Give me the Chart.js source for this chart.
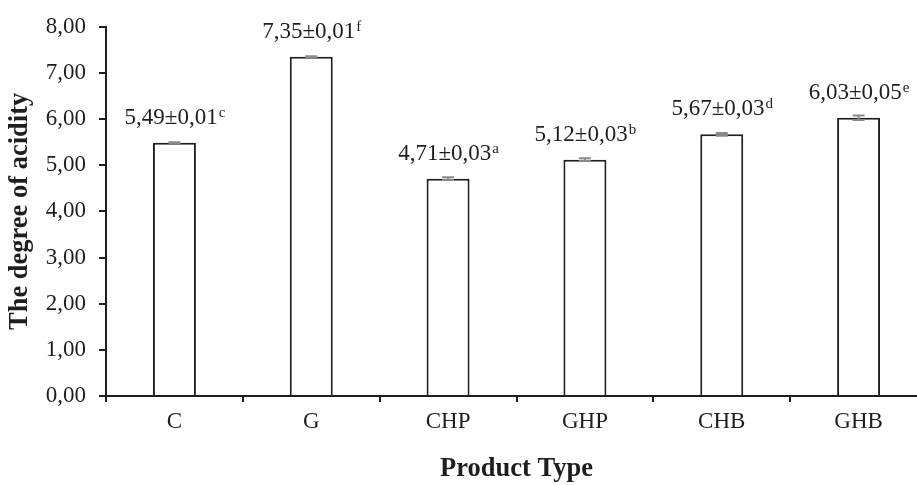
<!DOCTYPE html>
<html>
<head>
<meta charset="utf-8">
<script src="https://cdn.jsdelivr.net/npm/chart.js@4/dist/chart.umd.min.js"></script>
<style>
  html, body { margin: 0; padding: 0; background: #fff; overflow: hidden; }
  #wrap { position: relative; width: 930px; height: 485px; }
</style>
</head>
<body>
<div id="wrap"><canvas id="chart"></canvas></div>
<script>
// Degree of acidity per product type (mean ± SD, with significance letters)
const categories = ['C', 'G', 'CHP', 'GHP', 'CHB', 'GHB'];
const acidity    = [5.49, 7.35, 4.71, 5.12, 5.67, 6.03];
const deviation  = [0.01, 0.01, 0.03, 0.03, 0.03, 0.05];
const letters    = ['c', 'f', 'a', 'b', 'd', 'e'];
const yTicks     = [0, 1, 2, 3, 4, 5, 6, 7, 8];

const SERIF = '"Liberation Serif", "Times New Roman", serif';
const INK = '#1e1e1e';
const fmt = v => v.toFixed(2).replace('.', ',');

// Error bars and "mean±SD letter" labels above each bar
const annotate = {
  id: 'annotate',
  afterDatasetsDraw(chart) {
    const ctx = chart.ctx;
    const y = chart.scales.y;
    const meta = chart.getDatasetMeta(0);
    ctx.save();
    meta.data.forEach((bar, i) => {
      const x = bar.x;
      const v = acidity[i], sd = deviation[i];
      const yHi = y.getPixelForValue(v + sd);
      const yLo = y.getPixelForValue(v - sd);
      const cap = 6;
      ctx.strokeStyle = '#8a8a8a';
      ctx.lineWidth = 2;
      ctx.beginPath();
      ctx.moveTo(x, yHi); ctx.lineTo(x, yLo);
      ctx.moveTo(x - cap, yHi); ctx.lineTo(x + cap, yHi);
      ctx.moveTo(x - cap, yLo); ctx.lineTo(x + cap, yLo);
      ctx.stroke();

      const main = fmt(v) + '±' + fmt(sd);
      const sup = letters[i];
      ctx.font = '23px ' + SERIF;
      const wMain = ctx.measureText(main).width;
      ctx.font = '15px ' + SERIF;
      const wSup = ctx.measureText(sup).width;
      const start = x - (wMain + wSup) / 2;
      const base = y.getPixelForValue(v) - 19;
      ctx.fillStyle = INK;
      ctx.textBaseline = 'alphabetic';
      ctx.textAlign = 'left';
      ctx.font = '23px ' + SERIF;
      ctx.fillText(main, start, base);
      ctx.font = '15px ' + SERIF;
      ctx.fillText(sup, start + wMain + 1, base - 7);
    });
    ctx.restore();
  }
};

new Chart(document.getElementById('chart'), {
  type: 'bar',
  data: {
    labels: categories,
    datasets: [{
      data: acidity,
      backgroundColor: '#ffffff',
      borderColor: INK,
      borderWidth: 2,
      barPercentage: 0.314,
      categoryPercentage: 1.0
    }]
  },
  options: {
    responsive: true,
    maintainAspectRatio: false,
    animation: false,
    devicePixelRatio: 1,
    layout: { padding: { top: 21, right: 3, left: 0, bottom: 0 } },
    plugins: {
      legend: { display: false },
      tooltip: { enabled: false }
    },
    scales: {
      x: {
        afterFit: s => { s.height = 89; },
        grid: {
          display: true, offset: true, drawOnChartArea: false,
          drawTicks: true, tickLength: 6, color: INK, lineWidth: 2
        },
        border: { display: true, color: INK, width: 2 },
        ticks: { color: INK, font: { family: SERIF, size: 23 }, padding: 6 },
        title: {
          display: true, text: 'Product Type', color: INK,
          font: { family: SERIF, size: 26.5, weight: 'bold' },
          padding: { top: 0, bottom: 0 }
        }
      },
      y: {
        min: 0, max: 8,
        afterFit: s => { s.width = 106; },
        afterBuildTicks: s => { s.ticks = yTicks.map(v => ({ value: v })); },
        grid: {
          display: true, drawOnChartArea: false,
          drawTicks: true, tickLength: 7, color: INK, lineWidth: 2
        },
        border: { display: true, color: INK, width: 2 },
        ticks: {
          color: INK, font: { family: SERIF, size: 23 }, padding: 13,
          callback: v => fmt(v)
        },
        title: {
          display: true, text: 'The degree of acidity', color: INK,
          font: { family: SERIF, size: 26.5, weight: 'bold' },
          padding: { top: 4, bottom: 0 }
        }
      }
    }
  },
  plugins: [annotate]
});
</script>
</body>
</html>
